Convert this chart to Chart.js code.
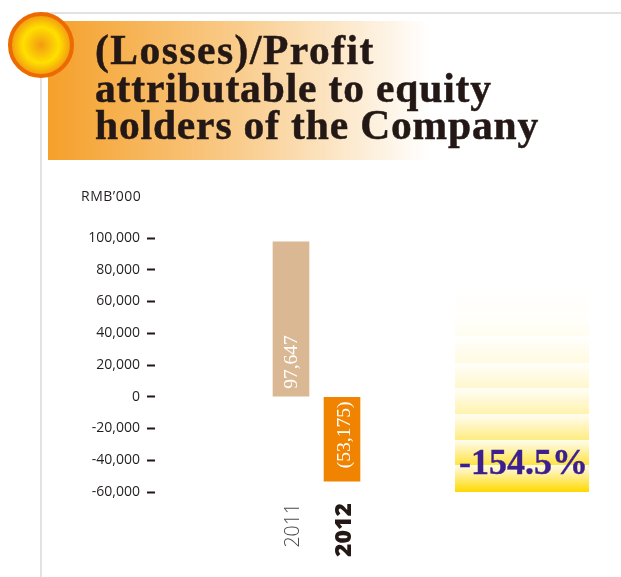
<!DOCTYPE html>
<html><head><meta charset="utf-8">
<style>
html,body{margin:0;padding:0;background:#fff;width:621px;height:577px;overflow:hidden}
#wrap{position:relative;width:621px;height:577px}
canvas{position:absolute;left:0;top:0}
#title{position:absolute;left:95px;top:32px;font:bold 41.5px/37.5px "Liberation Serif",serif;color:#231815;white-space:nowrap;-webkit-text-stroke:.5px #231815}
#title span{display:block}
#unit{position:absolute;left:81px;top:187px;font:14px/18px "Open Sans",sans-serif;letter-spacing:.5px;color:#231f20}
#pct{position:absolute;left:459px;top:441px;font:bold 36px/42px "Liberation Serif",serif;color:#3c1f8e;white-space:nowrap;-webkit-text-stroke:.4px #3c1f8e}
</style>
<script src="https://cdn.jsdelivr.net/npm/chart.js@4"></script>
</head><body><div id="wrap">
<canvas id="c" width="621" height="577"></canvas>
<div id="title"><span style="letter-spacing:1.5px">(Losses)/Profit</span><span style="letter-spacing:.85px">attributable to equity</span><span style="letter-spacing:.85px">holders of the Company</span></div>
<div id="unit">RMB’000</div>
<div id="pct">-154.5%</div>
</div>
<script>
const years = [2011, 2012];
const values = [97647, -53175];
const valueLabels = ['97,647', '(53,175)'];
const barColors = ['#dbb894', '#f08300'];
const yTicks = [100000, 80000, 60000, 40000, 20000, 0, -20000, -40000, -60000];
const stripeStrength = [0.02, 0.06, 0.12, 0.2, 0.32, 0.5, 0.75, 1];

const deco = {
  id: 'deco',
  beforeDraw(chart) {
    const c = chart.ctx;
    c.save();
    c.fillStyle = '#e2e2e2';
    c.fillRect(41, 12, 580, 2);
    c.fillRect(40, 12, 2, 565);
    let g = c.createLinearGradient(48, 0, 430, 0);
    g.addColorStop(0, '#f5a02a');
    g.addColorStop(0.5, '#f9cc8c');
    g.addColorStop(1, '#ffffff');
    c.fillStyle = g;
    c.fillRect(48, 21, 382, 139);
    g = c.createRadialGradient(41, 45, 0, 41, 45, 30);
    g.addColorStop(0, '#f39a12');
    g.addColorStop(0.6, '#ffe000');
    g.addColorStop(1, '#f39a12');
    c.beginPath();
    c.arc(41, 45, 31, 0, Math.PI * 2);
    c.fillStyle = g;
    c.fill();
    c.lineWidth = 4;
    c.strokeStyle = '#ec6a00';
    c.stroke();
    const tops = [285, 311, 336, 363, 388, 414, 440, 465, 492];
    const mix = s => 'rgb(255,' + Math.round(255 - 38 * s) + ',' + Math.round(255 - 255 * s) + ')';
    stripeStrength.forEach((s, i) => {
      const lg = c.createLinearGradient(0, tops[i], 0, tops[i + 1]);
      lg.addColorStop(0, mix(s * 0.08));
      lg.addColorStop(1, mix(s));
      c.fillStyle = lg;
      c.fillRect(455, tops[i], 134, tops[i + 1] - tops[i]);
    });
    c.restore();
  },
  afterDatasetsDraw(chart) {
    const c = chart.ctx;
    const meta = chart.getDatasetMeta(0);
    c.save();
    c.fillStyle = '#ffffff';
    c.font = '19.5px "Liberation Serif", serif';
    c.textBaseline = 'middle';
    c.textAlign = 'left';
    meta.data.forEach((bar, i) => {
      const zero = chart.scales.y.getPixelForValue(0);
      const start = values[i] > 0 ? zero - 8 : bar.y - 13;
      c.save();
      c.translate(bar.x + (i ? 3 : 1), start);
      c.rotate(-Math.PI / 2);
      c.fillText(valueLabels[i], 0, 0);
      c.restore();
    });
    c.restore();
  }
};

new Chart(document.getElementById('c'), {
  type: 'bar',
  data: {
    datasets: [{
      data: years.map((y, i) => ({ x: y, y: values[i] })),
      backgroundColor: barColors,
      barThickness: 36
    }]
  },
  options: {
    responsive: false,
    animation: false,
    layout: { padding: { top: 238, left: 0, right: 0, bottom: 0 } },
    plugins: { legend: { display: false }, tooltip: { enabled: false } },
    scales: {
      x: {
        type: 'linear',
        offset: false,
        min: 2011 - 136 / 51,
        max: 2011 - 136 / 51 + 466 / 51,
        grid: { display: false },
        border: { display: false },
        afterBuildTicks(s) { s.ticks = years.map(v => ({ value: v })); },
        afterFit(s) { s.height = 85; },
        ticks: {
          autoSkip: false, minRotation: 90, maxRotation: 90, padding: 3, labelOffset: 2.5,
          callback: v => String(v),
          color: ctx => ctx.index === 1 ? '#231815' : '#4a4a4a',
          font: ctx => ctx.index === 1
            ? { family: '"Open Sans"', size: 23, weight: '800' }
            : { family: '"Open Sans"', size: 19.5, weight: '300' }
        }
      },
      y: {
        min: -60000, max: 100000,
        afterBuildTicks(s) { s.ticks = yTicks.map(v => ({ value: v })); },
        afterFit(s) { s.width = 155; },
        border: { display: false },
        grid: { drawOnChartArea: false, tickLength: 8, tickWidth: 2, tickColor: '#231815' },
        ticks: {
          padding: 7,
          color: '#231f20',
          font: { family: '"Open Sans"', size: 14 },
          callback: v => v.toLocaleString('en-US')
        }
      }
    }
  },
  plugins: [deco]
});
</script>
</body></html>
